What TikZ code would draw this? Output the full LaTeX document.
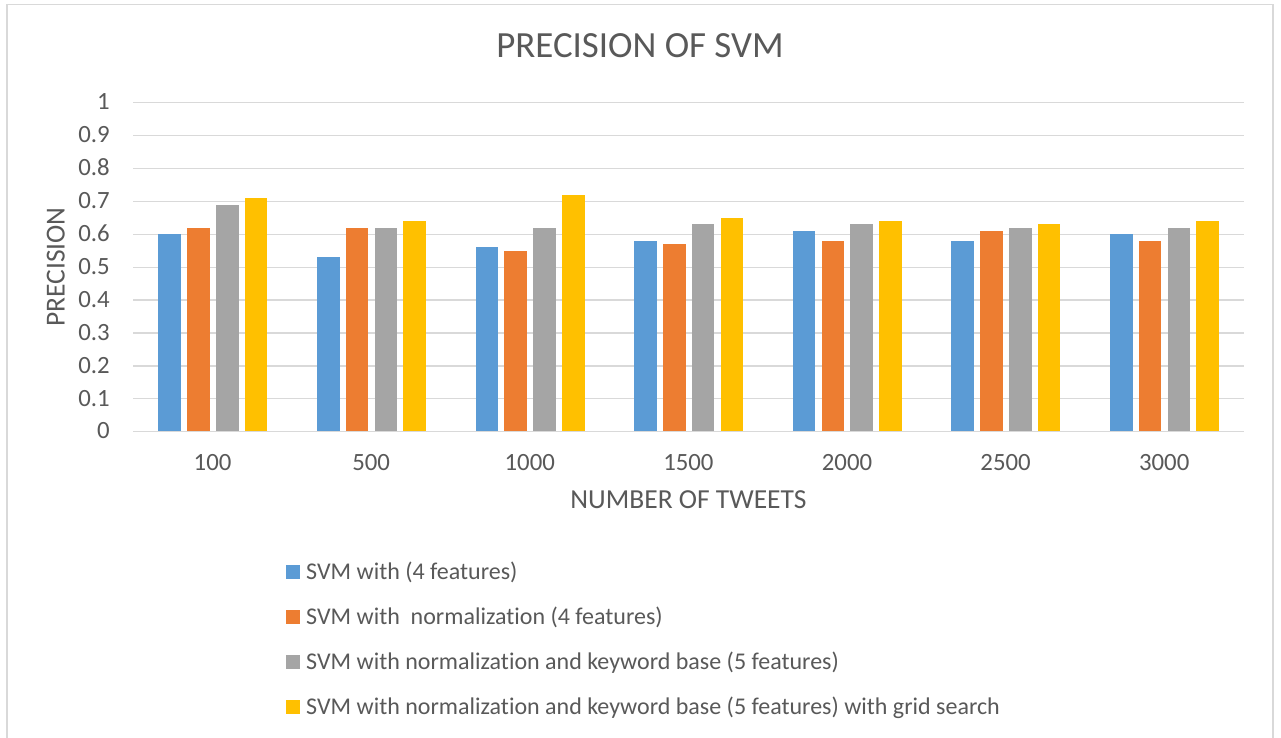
\documentclass[tikz,border=0pt]{standalone}
\usepackage{fontspec}
\setmainfont{Carlito}[Ligatures=NoCommon]
\definecolor{svmblue}{HTML}{5B9BD5}
\definecolor{svmorange}{HTML}{ED7D31}
\definecolor{svmgray}{HTML}{A5A5A5}
\definecolor{svmgold}{HTML}{FFC000}
\definecolor{gridgray}{HTML}{D9D9D9}
\definecolor{labelgray}{HTML}{595959}
\begin{document}
\begin{tikzpicture}[x=1pt,y=-1pt,
  gridline/.style={draw=gridgray, line width=1.3pt},
  ticklabel/.style={text=labelgray, inner sep=0pt, font=\fontsize{24.8}{24.8}\selectfont},
  axistitle/.style={text=labelgray, inner sep=0pt, font=\fontsize{27.5}{27.5}\selectfont},
  charttitle/.style={text=labelgray, inner sep=0pt, font=\fontsize{36.9}{36.9}\selectfont},
  legendtext/.style={text=labelgray, inner sep=0pt, anchor=base west, font=\fontsize{24}{24}\selectfont},
]
\useasboundingbox (0,0) rectangle (1281,738);
\fill[white] (0,0) rectangle (1281,738);
% chart frame
\draw[gridgray, line width=1.6pt] (7,738) -- (7,4.5) -- (1273,4.5) -- (1273,738);

% horizontal grid lines and value labels
\foreach \i/\t in {0/0,1/0.1,2/0.2,3/0.3,4/0.4,5/0.5,6/0.6,7/0.7,8/0.8,9/0.9,10/1} {
  \pgfmathsetmacro\gy{431.7-32.9*\i}
  \draw[gridline] (133.3,\gy) -- (1243.7,\gy);
  \node[ticklabel, anchor=base east] (ytick\i) at (110,{\gy+7.2}) {\t};
}

% bars, one group per tweet count
\foreach \k/\lab/\a/\b/\c/\d in {
  0/100/0.60/0.62/0.69/0.71,
  1/500/0.53/0.62/0.62/0.64,
  2/1000/0.56/0.55/0.62/0.72,
  3/1500/0.58/0.57/0.63/0.65,
  4/2000/0.61/0.58/0.63/0.64,
  5/2500/0.58/0.61/0.62/0.63,
  6/3000/0.60/0.58/0.62/0.64} {
  \pgfmathsetmacro\cx{212.6+158.6*\k}
  \fill[svmblue]   ({\cx-54.3},431.7) rectangle ({\cx-31.6},{431.7-329*\a});
  \fill[svmorange] ({\cx-25.5},431.7) rectangle ({\cx-2.8},{431.7-329*\b});
  \fill[svmgray]   ({\cx+3.3},431.7)  rectangle ({\cx+26.0},{431.7-329*\c});
  \fill[svmgold]   ({\cx+32.1},431.7) rectangle ({\cx+54.8},{431.7-329*\d});
  \node[ticklabel, anchor=base] (xtick\k) at (\cx,470.7) {\lab};
}
% category axis line
\draw[gridline] (133.3,431.7) -- (1243.7,431.7);

% titles
\node[charttitle, anchor=base] (title) at (640,57.7) {PRECISION OF SVM};
\node[axistitle, anchor=base] (xtitle) at (688.5,508.3) {NUMBER OF TWEETS};
\node[axistitle, anchor=base, rotate=90] (ytitle) at (64.5,267) {PRECISION};

% legend
\fill[svmblue]   (286,565) rectangle (300,579);
\node[legendtext] (leg1) at (306,579) {SVM with (4 features)};
\fill[svmorange] (286,610) rectangle (300,624);
\node[legendtext] (leg2) at (306,624) {SVM with~ normalization (4 features)};
\fill[svmgray]   (286,655) rectangle (300,669);
\node[legendtext] (leg3) at (306,669) {SVM with normalization and keyword base (5 features)};
\fill[svmgold]   (286,700) rectangle (300,714);
\node[legendtext] (leg4) at (306,714) {SVM with normalization and keyword base (5 features) with grid search};
\end{tikzpicture}
\end{document}
